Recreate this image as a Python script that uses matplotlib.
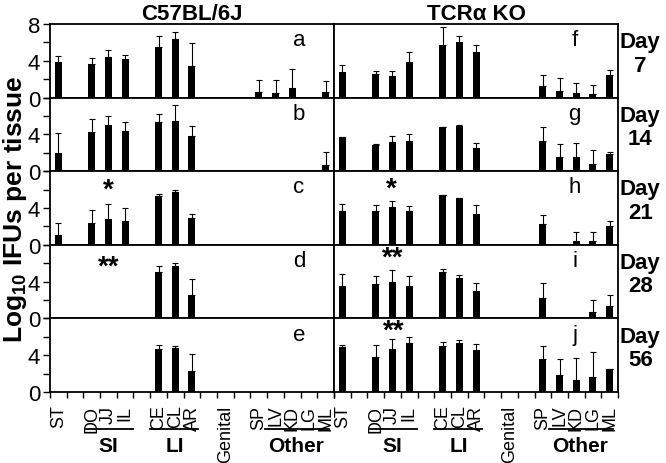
import numpy as np
import matplotlib
matplotlib.use('Agg')
import matplotlib.pyplot as plt
import matplotlib.transforms as mtransforms

plt.rcParams['font.family'] = ['Liberation Sans', 'DejaVu Sans']
plt.rcParams['mathtext.fontset'] = 'custom'
plt.rcParams['mathtext.rm'] = 'Liberation Sans'
plt.rcParams['mathtext.bf'] = 'Liberation Sans:bold'

nan = np.nan

# tissues and where they sit on the x axis (gaps between groups)
tissues = ['ST', 'DO', 'JJ', 'IL', 'CE', 'CL', 'AR', 'Genital', 'SP', 'LV', 'KD', 'LG', 'ML']
tissue_pos = [0, 2, 3, 4, 6, 7, 8, 10, 12, 13, 14, 15, 16]
days = ['7', '14', '21', '28', '56']
strains = ['C57BL/6J', 'TCRα KO']
panel_letters = [['a', 'b', 'c', 'd', 'e'], ['f', 'g', 'h', 'i', 'j']]

# C57BL/6J, log10 IFUs (mean) and upper error
c57_d7 = [3.9, 3.7, 4.4, 4.2, 5.5, 6.4, 3.4, nan, 0.6, 0.5, 1.0, nan, 0.6]
c57_d7_err = [0.65, 0.65, 0.75, 0.45, 1.25, 0.7, 2.55, nan, 1.35, 1.45, 2.1, nan, 1.2]
c57_d14 = [2.0, 4.3, 5.0, 4.4, 5.3, 5.5, 3.8, nan, nan, nan, nan, nan, 0.65]
c57_d14_err = [2.2, 1.4, 1.05, 1.0, 0.9, 1.7, 1.1, nan, nan, nan, nan, nan, 1.4]
c57_d21 = [1.1, 2.4, 2.8, 2.55, 5.35, 5.7, 2.9, nan, nan, nan, nan, nan, nan]
c57_d21_err = [1.3, 1.4, 1.6, 1.5, 0.15, 0.3, 0.45, nan, nan, nan, nan, nan, nan]
c57_d28 = [nan, nan, nan, nan, 5.05, 5.65, 2.6, nan, nan, nan, nan, nan, nan]
c57_d28_err = [nan, nan, nan, nan, 0.65, 0.35, 1.65, nan, nan, nan, nan, nan, nan]
c57_d56 = [nan, nan, nan, nan, 4.7, 4.75, 2.3, nan, nan, nan, nan, nan, nan]
c57_d56_err = [nan, nan, nan, nan, 0.45, 0.3, 1.8, nan, nan, nan, nan, nan, nan]

# TCRa KO
tcr_d7 = [2.8, 2.55, 2.3, 3.9, 5.7, 6.05, 5.0, nan, 1.3, 0.75, 0.55, 0.45, 2.5]
tcr_d7_err = [0.8, 0.35, 0.55, 1.05, 1.95, 0.65, 0.7, nan, 1.2, 1.35, 1.0, 0.9, 0.55]
tcr_d14 = [3.75, 2.8, 3.15, 3.3, 4.8, 4.95, 2.5, nan, 3.3, 1.5, 1.6, 0.8, 1.9]
tcr_d14_err = [0.0, 0.15, 0.7, 0.8, 0.05, 0.1, 0.6, nan, 1.5, 1.45, 1.5, 1.5, 0.2]
tcr_d21 = [3.7, 3.7, 4.15, 3.7, 5.4, 5.05, 3.4, nan, 2.3, nan, 0.45, 0.45, 2.05]
tcr_d21_err = [0.7, 0.6, 0.65, 0.55, 0.05, 0.07, 0.9, nan, 0.9, nan, 0.9, 0.9, 0.55]
tcr_d28 = [3.55, 3.75, 3.95, 3.5, 5.05, 4.4, 2.95, nan, 2.2, nan, nan, 0.65, 1.4]
tcr_d28_err = [1.3, 0.9, 1.35, 1.15, 0.35, 0.35, 0.95, nan, 1.7, nan, nan, 1.4, 1.15]
tcr_d56 = [4.9, 3.8, 4.7, 5.35, 5.05, 5.35, 4.6, nan, 3.55, 1.9, 1.35, 1.6, 2.5]
tcr_d56_err = [0.25, 1.35, 1.05, 0.65, 0.4, 0.3, 0.65, nan, 1.4, 1.7, 2.35, 2.8, 0.0]

means = [[c57_d7, c57_d14, c57_d21, c57_d28, c57_d56],
         [tcr_d7, tcr_d14, tcr_d21, tcr_d28, tcr_d56]]
errs = [[c57_d7_err, c57_d14_err, c57_d21_err, c57_d28_err, c57_d56_err],
        [tcr_d7_err, tcr_d14_err, tcr_d21_err, tcr_d28_err, tcr_d56_err]]

# significance marks: (column, row, text, x, y)
stars = [(0, 2, '*', 3, 6.0), (0, 3, '**', 3, 5.6),
         (1, 2, '*', 2.9, 6.1), (1, 3, '**', 3.0, 6.6), (1, 4, '**', 3.1, 6.7)]

groups = [('SI', 1.65, 4.45, 3), ('LI', 5.5, 8.35, 7), ('Other', 12.35, 16.2, 14.2)]

fig, axes = plt.subplots(5, 2, figsize=(6.66, 4.64), dpi=100)
fig.subplots_adjust(left=0.075, right=0.928, top=0.946, bottom=0.153, hspace=0, wspace=0)

for col in range(2):
    for row in range(5):
        ax = axes[row, col]
        v = np.array(means[col][row])
        e = np.array(errs[col][row])
        ok = ~np.isnan(v)
        x = np.array(tissue_pos)[ok]
        ax.bar(x, v[ok], width=0.42, color='black', zorder=2)
        ax.errorbar(x, v[ok], yerr=[np.zeros(ok.sum()), e[ok]], fmt='none',
                    ecolor='black', elinewidth=0.8, capsize=2, capthick=0.8, zorder=1)
        ax.set_xlim(-0.5, 16.5)
        ax.set_ylim(0, 8)
        for s in ax.spines.values():
            s.set_linewidth(1.3)

        ax.text(14.4 if col == 0 else 13.9, 6.3, panel_letters[col][row],
                fontsize=16, ha='center', va='center')

        # x ticks at the boundaries, labels centred on bars
        ax.set_xticks(np.arange(-0.5, 17, 1))
        ax.set_xticklabels([])
        if row == 4:
            ax.set_xticks(tissue_pos, tissues, minor=True, rotation=90, fontsize=13)
            ax.tick_params(axis='x', which='minor', length=0, pad=9)
            ax.tick_params(axis='x', which='major', length=4, width=1, direction='out')
        else:
            ax.tick_params(axis='x', which='both', length=0)

        if col == 0:
            ax.set_yticks([0, 4, 8])
            ax.set_yticklabels(['0', '4', '8'] if row == 0 else ['0', '4', ''], fontsize=16)
            ax.set_yticks([2, 6], minor=True)
            ax.tick_params(axis='y', which='both', length=5, width=1, direction='out', pad=2)
        else:
            ax.set_yticks([])
            ax.text(1.078, 0.6, 'Day\n' + days[row], transform=ax.transAxes,
                    fontsize=16, fontweight='bold', ha='center', va='center', linespacing=1.15)

        if row == 0:
            ax.set_title(strains[col], fontsize=16, fontweight='bold', pad=3)

    # group brackets under the bottom panels
    ax = axes[4, col]
    trans = mtransforms.blended_transform_factory(ax.transData, ax.transAxes)
    for name, x0, x1, xc in groups:
        ax.plot([x0, x1], [-0.5, -0.5], transform=trans, clip_on=False, color='black', lw=1.3)
        ax.text(xc, -0.73, name, transform=trans, fontsize=15, fontweight='bold',
                ha='center', va='center')

for col, row, txt, x, y in stars:
    axes[row, col].text(x, y, txt, fontsize=20, fontweight='bold', ha='center', va='center')

fig.text(0.022, 0.548, r'Log$_{\mathbf{10}}$ IFUs per tissue', rotation=90, fontsize=19,
         fontweight='bold', ha='center', va='center')

fig.savefig('out.png', dpi=100)
